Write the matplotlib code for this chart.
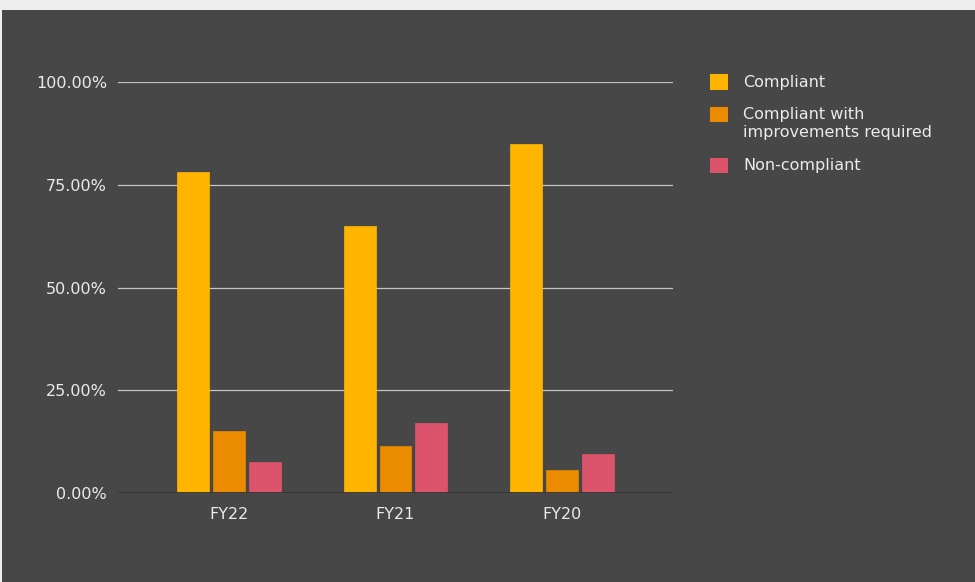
import matplotlib.pyplot as plt
import matplotlib.patches as mpatches
import numpy as np

plt.rcParams['font.family'] = ['DejaVu Sans']

# Data
years = ["FY22", "FY21", "FY20"]
compliant = [78, 65, 85]
compliant_improve = [15, 11.5, 5.6]
non_compliant = [7.5, 17, 9.5]

series_names = ["Compliant", "Compliant with\nimprovements required", "Non-compliant"]
series_colors = ["#FFB400", "#EA8B00", "#DB546B"]

bg = "#474747"
text_col = "#EBEBEB"
W, H = 975, 582
fs = 11.5

fig = plt.figure(figsize=(9.75, 5.82), dpi=100, facecolor="#EEEEEE")
# dark panel (thin light strip at top and left like the reference)
fig.patches.append(mpatches.Rectangle((2 / W, 0), 1, 1 - 10 / H,
                                      transform=fig.transFigure,
                                      facecolor=bg, edgecolor="none", zorder=-10))

ax = fig.add_axes([118 / W, 1 - 493 / H, (673 - 118) / W, (493 - 82) / H])
ax.set_facecolor(bg)

x = np.arange(len(years))
w = 0.192
step = 0.216
for i, (vals, name, col) in enumerate(zip([compliant, compliant_improve, non_compliant],
                                          series_names, series_colors)):
    ax.bar(x + (i - 1) * step, vals, width=w, color=col, label=name,
           edgecolor=col, linewidth=0.5, zorder=3)

ax.set_xlim(-0.667, 2.667)
ax.set_ylim(0, 100)
ax.set_yticks([0, 25, 50, 75, 100])
ax.set_yticklabels(["0.00%", "25.00%", "50.00%", "75.00%", "100.00%"])
ax.set_xticks(x)
ax.set_xticklabels(years)
ax.tick_params(axis="both", length=0, colors=text_col, labelsize=fs)
ax.tick_params(axis="y", pad=8)
ax.tick_params(axis="x", pad=10)

for yv in [25, 50, 75, 100]:
    ax.axhline(yv, color="#C4C4C4", linewidth=0.9, zorder=1)
ax.axhline(0, color="#333333", linewidth=2, zorder=4)

for s in ax.spines.values():
    s.set_visible(False)

# legend drawn by hand so the swatch lines up with the first text line
leg_y = [82, 114.5, 165.5]
for name, col, yc in zip(series_names, series_colors, leg_y):
    fig.patches.append(mpatches.Rectangle((710 / W, 1 - (yc + 7.5) / H), 18 / W, 15 / H,
                                          transform=fig.transFigure,
                                          facecolor=col, edgecolor="none"))
    fig.text(743 / W, 1 - (yc - 7.5) / H, name, color=text_col, fontsize=fs,
             va="top", ha="left", linespacing=1.25)

fig.savefig("out.png", dpi=100, facecolor=fig.get_facecolor())
